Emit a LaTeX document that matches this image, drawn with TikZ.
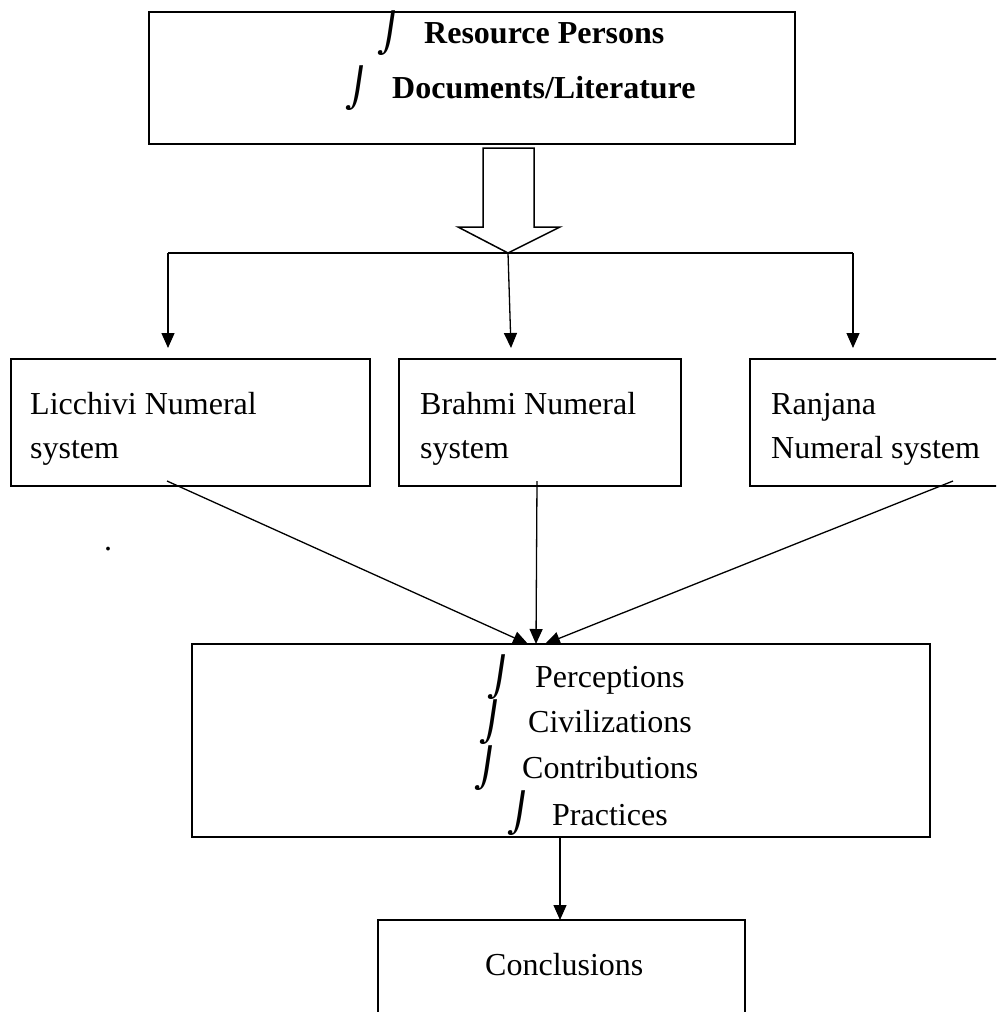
\documentclass[tikz,border=0pt]{standalone}
\usepackage{fontspec}
\setmainfont{Liberation Serif}
\newfontfamily\djv{DejaVu Sans}
\usetikzlibrary{arrows.meta,calc}
\begin{document}
\begin{tikzpicture}[x=1pt,y=-1pt,
  boxst/.style={draw,line width=1.5pt,rectangle,inner sep=0pt,outer sep=0pt,anchor=north west},
  lbl/.style={anchor=base west,inner sep=0pt,font=\fontsize{32}{44}\selectfont},
  blbl/.style={lbl,font=\fontsize{32}{44}\selectfont\bfseries},
  bul/.style={anchor=base west,inner sep=0pt,font=\fontsize{38}{44}\djv,xslant=0.15},
  conn/.style={line width=1.3pt},
  arr/.style={conn,-{Triangle[length=15pt,width=13pt]}}
]
\useasboundingbox (0,0) rectangle (996,1012);
\fill[white] (0,0) rectangle (996,1012);
\clip (0,0) rectangle (996,1012);

% top box
\node[boxst,minimum width=646pt,minimum height=132pt] (src) at (149,12) {};
\node[bul] (b1) at (378,46) {⌡};
\node[blbl] (t1) at (424,43) {Resource Persons};
\node[bul] (b2) at (346,101) {⌡};
\node[blbl] (t2) at (392,98) {Documents/Literature};

% block arrow
\draw[line width=1.5pt,fill=white] (483,148) -- (534,148) -- (534,227) -- (560,227) -- (508,253) -- (458,227) -- (483,227) -- cycle;
\coordinate (tip) at (508,253);
\coordinate (hl) at (168,253);
\coordinate (hr) at (853,253);

% three boxes
\node[boxst,minimum width=359pt,minimum height=127pt] (lic) at (11,359) {};
\node[boxst,minimum width=282pt,minimum height=127pt] (bra) at (399,359) {};
\node[boxst,minimum width=260pt,minimum height=127pt] (ran) at (750,359) {};
\node[lbl] (tl1) at (30,414) {Licchivi Numeral};
\node[lbl] (tl2) at (30,458) {system};
\node[lbl] (tb1) at (420,414) {Brahmi Numeral};
\node[lbl] (tb2) at (420,458) {system};
\node[lbl] (tr1) at (771,414) {Ranjana};
\node[lbl] (tr2) at (771,458) {Numeral system};
\node[lbl] (dot) at (104,550) {.};

% middle box
\node[boxst,minimum width=738pt,minimum height=193pt] (mid) at (192,644) {};
\node[bul] (m1) at (488,690) {⌡};
\node[lbl] (p1) at (535,687) {Perceptions};
\node[bul] (m2) at (480,735) {⌡};
\node[lbl] (p2) at (528,732) {Civilizations};
\node[bul] (m3) at (475,781) {⌡};
\node[lbl] (p3) at (522,778) {Contributions};
\node[bul] (m4) at (508,826) {⌡};
\node[lbl] (p4) at (552,825) {Practices};

% conclusions
\node[boxst,minimum width=367pt,minimum height=130pt] (con) at (378,920) {};
\node[lbl] (c1) at (485,975) {Conclusions};

% connectors
\draw[conn] (hl) -- (hr);
\draw[arr] (hl) -- ($(hl |- lic.north)+(0,-11)$);
\draw[arr] (tip) -- ($(511,0 |- bra.north)+(0,-11)$);
\draw[arr] (hr) -- ($(hr |- ran.north)+(0,-11)$);

\coordinate (s1) at (167,481);
\coordinate (s2) at (537,481);
\coordinate (s3) at (953,481);
\draw[arr] (s1) -- (528,644 |- mid.north);
\draw[arr] (s2) -- (536,644 |- mid.north);
\draw[arr] (s3) -- (545,644 |- mid.north);
\draw[arr] (560,837 |- mid.south) -- (560,920 |- con.north);
\end{tikzpicture}
\end{document}
